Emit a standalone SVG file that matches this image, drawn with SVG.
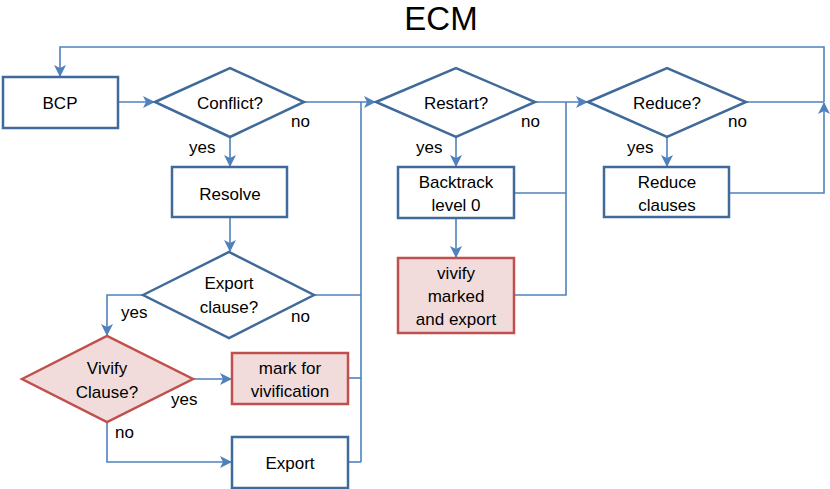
<svg xmlns="http://www.w3.org/2000/svg" width="830" height="489" viewBox="0 0 830 489">
<defs>
<marker id="ah" markerWidth="12" markerHeight="12" viewBox="0 0 12 12" refX="11" refY="6" orient="auto" markerUnits="userSpaceOnUse">
<path d="M0,0 L12,6 L0,12 L3,6 z" fill="#4F81BD"/>
</marker>
<style>
text{font-family:"Liberation Sans",Arial,sans-serif;font-size:17px;fill:#000;text-anchor:middle;dominant-baseline:central}
.n{fill:#fff;stroke:#3F6A9A;stroke-width:2.5}
.r{fill:#F2DCDB;stroke:#C0504D;stroke-width:2.5}
.c{fill:none;stroke:#4F81BD;stroke-width:1.6}
.a{marker-end:url(#ah)}
.l{text-anchor:start}
</style>
</defs>
<text x="441" y="18" style="font-size:33px">ECM</text>
<g id="connectors">
<path class="c a" d="M824,102 L824,47 L60,47 L60,76"/>
<path class="c a" d="M118,102 L154,102"/>
<path class="c a" d="M230,137 L230,166"/>
<path class="c a" d="M230,217 L230,251"/>
<path class="c a" d="M304,102 L375,102"/>
<path class="c" d="M361,102 L361,462"/>
<path class="c" d="M314,295 L361,295"/>
<path class="c" d="M348,378 L361,378"/>
<path class="c" d="M348,462 L361,462"/>
<path class="c a" d="M143,295 L107,295 L107,335"/>
<path class="c a" d="M193,379 L231,379"/>
<path class="c a" d="M107,422 L107,462 L231,462"/>
<path class="c a" d="M535,102 L587,102"/>
<path class="c" d="M566,102 L566,295 L514,295"/>
<path class="c" d="M514,193 L566,193"/>
<path class="c a" d="M456,137 L456,166"/>
<path class="c a" d="M456,218 L456,257"/>
<path class="c a" d="M667,137 L667,166"/>
<path class="c" d="M746,102 L824,102"/>
<path class="c a" d="M729,193 L824,193 L824,103"/>
</g>
<g id="bcp"><rect class="n" x="3" y="77" width="115" height="51"/><text x="60" y="103">BCP</text></g>
<g id="conflict"><polygon class="n" points="155,102 230,68 304,102 230,137"/><text x="230" y="103">Conflict?</text></g>
<g id="resolve"><rect class="n" x="172" y="167" width="115" height="50"/><text x="230" y="194">Resolve</text></g>
<g id="exportclause"><polygon class="n" points="143,295 229,252 314,295 229,338"/><text x="229" y="283">Export</text><text x="229" y="307">clause?</text></g>
<g id="vivifyclause"><polygon class="r" points="22,379 107,336 193,379 107,422"/><text x="107" y="368">Vivify</text><text x="107" y="392">Clause?</text></g>
<g id="mark"><rect class="r" x="232" y="353" width="116" height="51"/><text x="290" y="368">mark for</text><text x="290" y="391">vivification</text></g>
<g id="export"><rect class="n" x="232" y="437" width="116" height="51"/><text x="290" y="463">Export</text></g>
<g id="restart"><polygon class="n" points="376,102 456,68 535,102 456,137"/><text x="456" y="103">Restart?</text></g>
<g id="backtrack"><rect class="n" x="398" y="167" width="116" height="51"/><text x="456" y="182">Backtrack</text><text x="456" y="205">level 0</text></g>
<g id="vivifymarked"><rect class="r" x="398" y="258" width="116" height="75"/><text x="456" y="273">vivify</text><text x="456" y="296">marked</text><text x="456" y="319">and export</text></g>
<g id="reduce"><polygon class="n" points="588,102 667,68 746,102 667,137"/><text x="667" y="103">Reduce?</text></g>
<g id="reduceclauses"><rect class="n" x="604" y="167" width="125" height="50"/><text x="667" y="182">Reduce</text><text x="667" y="205">clauses</text></g>
<g id="labels">
<text class="l" x="291" y="121">no</text>
<text class="l" x="189" y="147">yes</text>
<text class="l" x="521" y="121">no</text>
<text class="l" x="416" y="147">yes</text>
<text class="l" x="728" y="121">no</text>
<text class="l" x="627" y="147">yes</text>
<text class="l" x="121" y="312">yes</text>
<text class="l" x="291" y="316">no</text>
<text class="l" x="171" y="399">yes</text>
<text class="l" x="115" y="432">no</text>
</g>
</svg>
